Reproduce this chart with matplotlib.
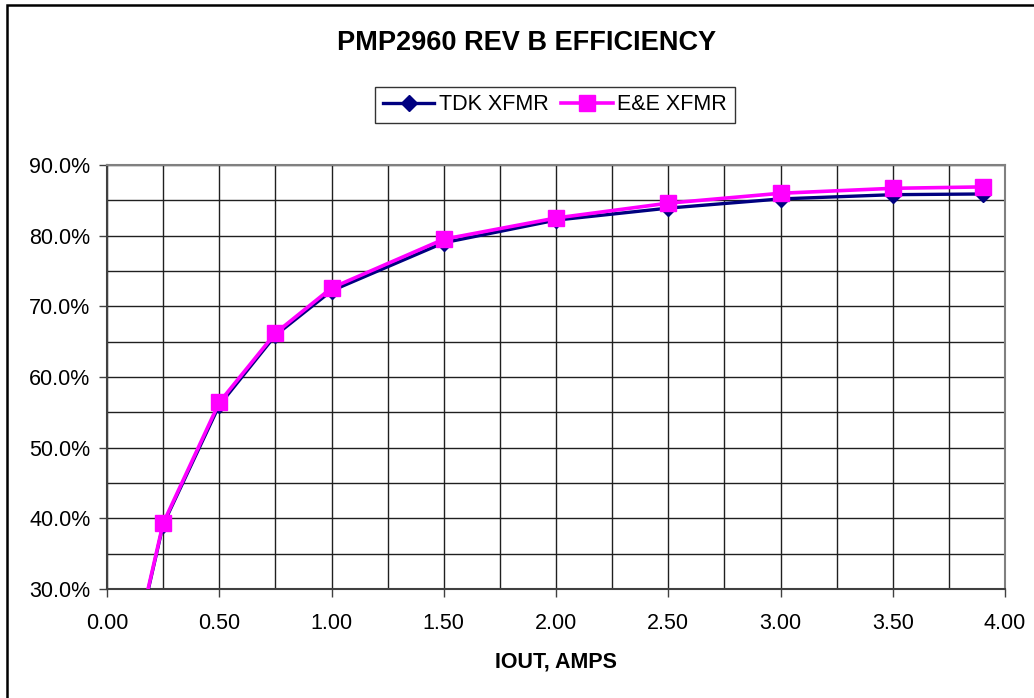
import matplotlib
matplotlib.use("Agg")
import matplotlib.pyplot as plt
import numpy as np
from matplotlib.patches import Rectangle
from matplotlib.ticker import FuncFormatter, MultipleLocator

plt.rcParams['font.family'] = ['Liberation Sans', 'DejaVu Sans']

iout = [0.10, 0.25, 0.50, 0.75, 1.00, 1.50, 2.00, 2.50, 3.00, 3.50, 3.90]
tdk = [18.3, 39.1, 56.0, 65.9, 72.2, 79.0, 82.2, 83.9, 85.2, 85.8, 85.9]
ee = [18.5, 39.3, 56.4, 66.2, 72.6, 79.5, 82.5, 84.6, 86.0, 86.7, 86.9]
series_names = ["TDK XFMR", "E&E XFMR"]
title = "PMP2960 REV B EFFICIENCY"
xlabel = "IOUT, AMPS"

W, H = 1034, 698
fig = plt.figure(figsize=(W / 100, H / 100), dpi=100)
fig.patch.set_facecolor('white')

# outer chart border (right/bottom edges lie outside the image)
fig.patches.append(Rectangle((7 / W, -0.05), 1.1, (H - 5) / H + 0.05,
                             transform=fig.transFigure, fill=False,
                             edgecolor='black', linewidth=1.8))

ax = fig.add_axes([107 / W, (H - 589) / H, (1005 - 107) / W, (589 - 165) / H])
ax.set_xlim(0, 4)
ax.set_ylim(30, 90)

ax.xaxis.set_major_locator(MultipleLocator(0.5))
ax.xaxis.set_minor_locator(MultipleLocator(0.25))
ax.yaxis.set_major_locator(MultipleLocator(10))
ax.yaxis.set_minor_locator(MultipleLocator(5))
ax.xaxis.set_major_formatter(FuncFormatter(lambda v, p: f"{v:.2f}"))
ax.yaxis.set_major_formatter(FuncFormatter(lambda v, p: f"{v:.1f}%"))

ax.grid(True, which='both', color='#202020', linewidth=1.0)
ax.set_axisbelow(True)
ax.tick_params(which='major', direction='out', length=6, width=1,
               color='#404040', labelsize=15.5, labelcolor='black')
ax.tick_params(axis='y', which='major', pad=6)
ax.tick_params(axis='x', which='major', pad=11)
ax.tick_params(which='minor', length=0)
for name, s in ax.spines.items():
    s.set_linewidth(1.5)
    s.set_color('#404040' if name in ('left', 'bottom') else '#808080')

ax.plot(iout, tdk, color='#000080', linewidth=2.4, marker='D',
        markersize=8.5, label=series_names[0], zorder=3)
ax.plot(iout, ee, color='#FF00FF', linewidth=2.6, marker='s',
        markersize=11.5, label=series_names[1], zorder=4)

fig.text(527 / W, 1 - 43 / H, title, ha='center', va='center',
         fontsize=19.5, fontweight='bold')
fig.text(556 / W, 1 - 662 / H, xlabel, ha='center', va='center',
         fontsize=15.5, fontweight='bold')

leg = fig.legend(loc='center', bbox_to_anchor=(555 / W, 1 - 105 / H),
                 ncol=2, numpoints=1, fontsize=15.5, frameon=True,
                 fancybox=False, handlelength=2.4, handletextpad=0.2,
                 columnspacing=0.6, borderpad=0.35, borderaxespad=0)
leg.get_frame().set_edgecolor('black')
leg.get_frame().set_linewidth(1.0)

fig.savefig('out.png', dpi=100)
